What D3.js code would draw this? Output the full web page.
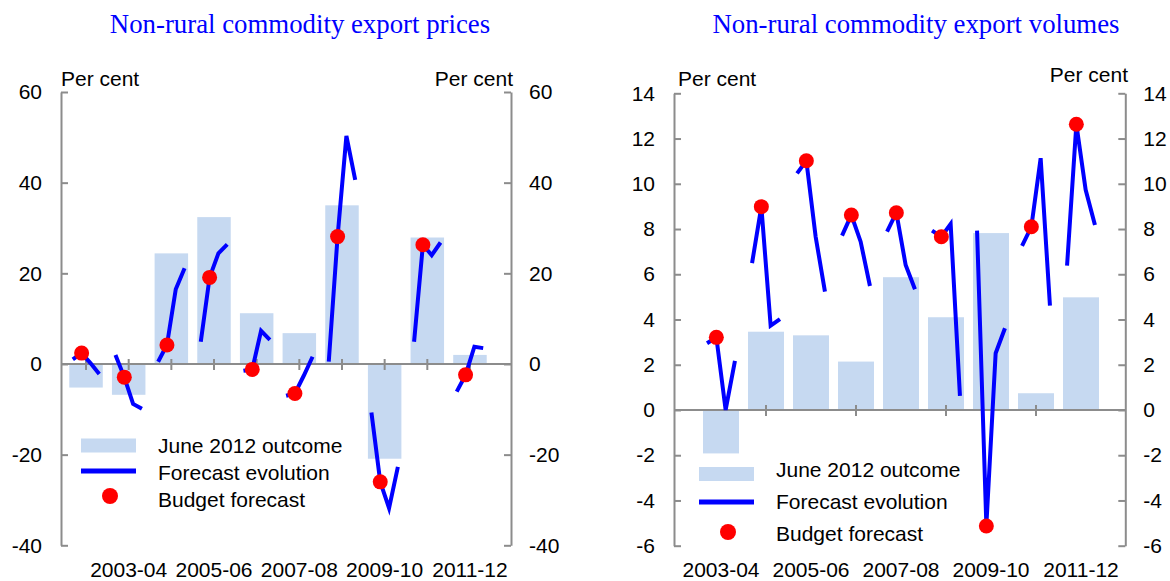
<!DOCTYPE html>
<html>
<head>
<meta charset="utf-8">
<script src="https://cdn.jsdelivr.net/npm/d3@7"></script>
<style>
  html, body { margin: 0; padding: 0; background: #fff; }
  svg { display: block; }
  text { font-family: "Liberation Sans", Arial, sans-serif; fill: #000; }
</style>
</head>
<body>
<svg id="chart" width="1170" height="581"></svg>
<script>
// ---------- DATA ----------
const forecastRounds = ['First forecast', 'Budget', 'MYEFO', 'Following Budget'];

const priceCategories = ['2002-03','2003-04','2004-05','2005-06','2006-07','2007-08','2008-09','2009-10','2010-11','2011-12'];
const priceLabels = ['2003-04','2005-06','2007-08','2009-10','2011-12'];
const priceTickCats = priceCategories;
const priceOutcome = [-5.2, -6.8, 24.4, 32.4, 11.2, 6.8, 35.0, -20.9, 27.9, 2.0];
const priceEvolution = [
  [1.0, 2.4, 0.2, -2.2],
  [2.0, -2.9, -8.8, -9.9],
  [0.5, 4.2, 16.5, 21.1],
  [4.9, 19.1, 24.4, 26.4],
  [-1.5, -1.2, 7.3, 5.3],
  [-7.0, -6.5, -2.6, 1.6],
  [0.5, 28.1, 50.3, 40.6],
  [-10.7, -26.0, -31.8, -22.7],
  [4.9, 26.3, 24.0, 26.8],
  [-6.1, -2.4, 3.8, 3.5]
];
const priceBudget = [2.4, -2.9, 4.2, 19.1, -1.2, -6.5, 28.1, -26.0, 26.3, -2.4];
const priceTicks = [-40, -20, 0, 20, 40, 60];

const volumeCategories = ['2003-04','2004-05','2005-06','2006-07','2007-08','2008-09','2009-10','2010-11','2011-12'];
const volumeLabels = ['2003-04','2005-06','2007-08','2009-10','2011-12'];
const volumeTickCats = ['2004-05','2006-07','2008-09','2010-11'];
const volumeOutcome = [-1.92, 3.46, 3.30, 2.14, 5.87, 4.10, 7.82, 0.74, 4.98];
const volumeEvolution = [
  [2.95, 3.21, 0.0, 2.17],
  [6.49, 8.99, 3.73, 4.02],
  [10.46, 11.02, 7.66, 5.23],
  [7.71, 8.62, 7.44, 5.48],
  [7.88, 8.72, 6.41, 5.34],
  [7.93, 7.66, 8.22, 0.62],
  [7.93, -5.1, 2.51, 3.61],
  [7.26, 8.10, 11.13, 4.61],
  [6.38, 12.63, 9.73, 8.18]
];
const volumeBudget = [3.21, 8.99, 11.02, 8.62, 8.72, 7.66, -5.13, 8.10, 12.63];
const volumeTicks = [-6, -4, -2, 0, 2, 4, 6, 8, 10, 12, 14];

const legendItems = ['June 2012 outcome', 'Forecast evolution', 'Budget forecast'];

// ---------- STYLE ----------
const BAR = '#c6d9f1', LINE = '#0000ff', DOT = '#ff0000', AXIS = '#8c8c8c';
const FONT = 21;

const svg = d3.select('#chart');

function drawPanel(cfg) {
  const g = svg.append('g');
  const x = d3.scaleBand().domain(cfg.categories).range(cfg.bandRange)
    .paddingInner(cfg.pad).paddingOuter(cfg.pad / 2);
  const y = d3.scaleLinear().domain(cfg.yDomain).range(cfg.yRange);
  const inner = d3.scalePoint().domain(forecastRounds)
    .range([-0.31 * x.step(), 0.31 * x.step()]);
  const cx = c => x(c) + x.bandwidth() / 2;
  const fmt = d => String(d);

  // title
  g.append('text').attr('x', cfg.titleX).attr('y', 33).attr('text-anchor', 'middle')
    .style('font-family', '"Liberation Serif", "Times New Roman", serif')
    .style('font-size', '26.8px').style('fill', '#0000ff').text(cfg.title);

  // bars
  g.append('g').selectAll('rect').data(cfg.outcome).join('rect')
    .attr('x', (d, i) => x(cfg.categories[i]))
    .attr('width', x.bandwidth())
    .attr('y', d => y(Math.max(0, d)))
    .attr('height', d => Math.abs(y(d) - y(0)))
    .attr('fill', BAR);

  // y axes
  const axL = g.append('g').attr('transform', `translate(${cfg.axisL},0)`)
    .call(d3.axisLeft(y).tickValues(cfg.ticks).tickSizeInner(-7).tickSizeOuter(0).tickPadding(19).tickFormat(fmt));
  const axR = g.append('g').attr('transform', `translate(${cfg.axisR},0)`)
    .call(d3.axisRight(y).tickValues(cfg.ticks).tickSizeInner(-7).tickSizeOuter(0).tickPadding(18).tickFormat(fmt));
  [axL, axR].forEach(a => {
    a.select('.domain').attr('stroke', AXIS).attr('stroke-width', 2);
    a.selectAll('.tick line').attr('stroke', AXIS).attr('stroke-width', 2);
    a.selectAll('.tick text').style('font-size', FONT + 'px')
      .style('font-family', '"Liberation Sans", Arial, sans-serif').attr('fill', '#000');
  });

  // zero line and category ticks
  g.append('line').attr('x1', cfg.axisL).attr('x2', cfg.axisR)
    .attr('y1', y(0)).attr('y2', y(0)).attr('stroke', AXIS).attr('stroke-width', 2);
  g.append('g').selectAll('line').data(cfg.tickCats).join('line')
    .attr('x1', d => cx(d)).attr('x2', d => cx(d))
    .attr('y1', y(0) - 5).attr('y2', y(0) + 6)
    .attr('stroke', AXIS).attr('stroke-width', 2);
  g.append('g').selectAll('text').data(cfg.labels).join('text')
    .attr('x', d => cx(d)).attr('y', 577).attr('text-anchor', 'middle')
    .style('font-size', FONT + 'px').text(d => d);

  // unit labels
  g.append('text').attr('x', cfg.unitL[0]).attr('y', cfg.unitL[1])
    .style('font-size', FONT + 'px').text('Per cent');
  g.append('text').attr('x', cfg.unitR[0]).attr('y', cfg.unitR[1]).attr('text-anchor', 'end')
    .style('font-size', FONT + 'px').text('Per cent');

  // forecast evolution lines
  const line = d3.line().x(d => d[0]).y(d => y(d[1]));
  g.append('g').selectAll('path').data(cfg.evolution).join('path')
    .attr('d', (vals, i) => line(vals.map((v, k) => [cx(cfg.categories[i]) + inner(forecastRounds[k]), v])))
    .attr('fill', 'none').attr('stroke', LINE).attr('stroke-width', 4)
    .attr('stroke-linejoin', 'miter');

  // budget forecast dots
  g.append('g').selectAll('circle').data(cfg.budget).join('circle')
    .attr('cx', (d, i) => cx(cfg.categories[i]) + inner(forecastRounds[1]))
    .attr('cy', d => y(d)).attr('r', 7.5).attr('fill', DOT);

  // legend
  const L = cfg.legend;
  g.append('rect').attr('x', L.x).attr('y', L.y[0] - 7).attr('width', 55).attr('height', 14).attr('fill', BAR);
  g.append('line').attr('x1', L.x).attr('x2', L.x + 55).attr('y1', L.y[1]).attr('y2', L.y[1])
    .attr('stroke', LINE).attr('stroke-width', 5);
  g.append('circle').attr('cx', L.x + 29).attr('cy', L.y[2]).attr('r', 8).attr('fill', DOT);
  g.append('g').selectAll('text').data(legendItems).join('text')
    .attr('x', L.tx).attr('y', (d, i) => L.y[i] + L.dy[i])
    .style('font-size', FONT + 'px').text(d => d);
}

drawPanel({
  title: 'Non-rural commodity export prices', titleX: 300,
  categories: priceCategories, labels: priceLabels, tickCats: priceTickCats,
  outcome: priceOutcome, evolution: priceEvolution, budget: priceBudget,
  ticks: priceTicks, yDomain: [-40, 60], yRange: [545.3, 92],
  bandRange: [64.7, 491.3], pad: 0.215, axisL: 61, axisR: 511,
  unitL: [61, 86], unitR: [513, 86],
  legend: { x: 81, tx: 158, y: [445.5, 471, 496], dy: [7, 9, 11] }
});

drawPanel({
  title: 'Non-rural commodity export volumes', titleX: 916,
  categories: volumeCategories, labels: volumeLabels, tickCats: volumeTickCats,
  outcome: volumeOutcome, evolution: volumeEvolution, budget: volumeBudget,
  ticks: volumeTicks, yDomain: [-6, 14], yRange: [545.7, 93.3],
  bandRange: [698.5, 1103.5], pad: 0.2, axisL: 674, axisR: 1125.3,
  unitL: [678, 86], unitR: [1128, 82],
  legend: { x: 699, tx: 776, y: [474, 502, 532], dy: [3, 7, 9] }
});
</script>
</body>
</html>
